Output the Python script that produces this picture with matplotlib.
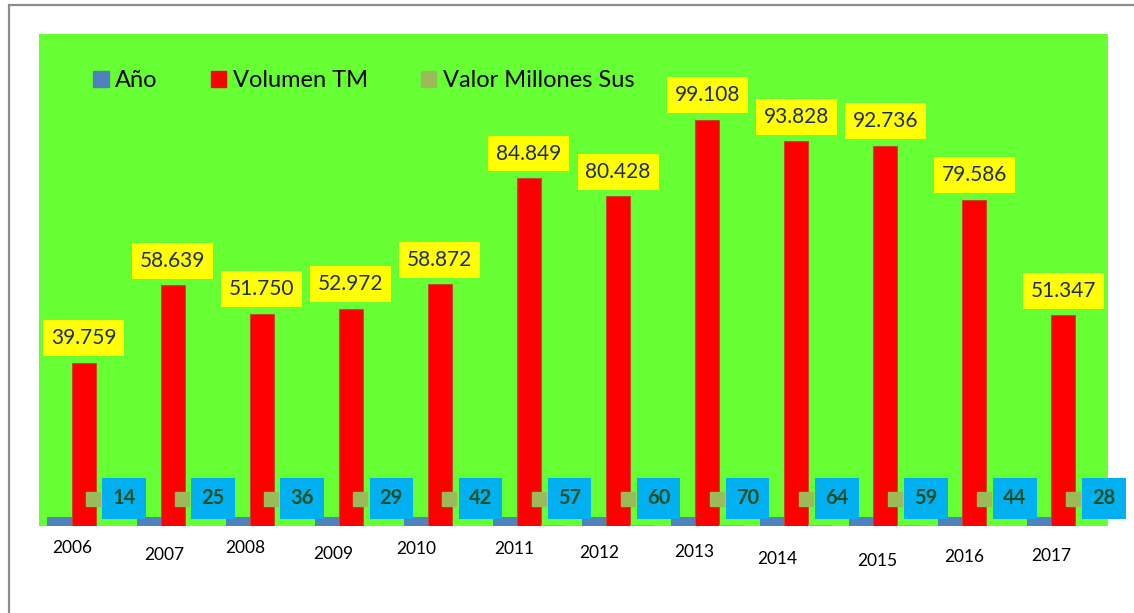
import numpy as np
import matplotlib.pyplot as plt
from matplotlib.patches import Patch, Rectangle
from matplotlib.transforms import offset_copy

# data
anios = [2006, 2007, 2008, 2009, 2010, 2011, 2012, 2013, 2014, 2015, 2016, 2017]
volumen_tm = [39759, 58639, 51750, 52972, 58872, 84849, 80428, 99108, 93828, 92736, 79586, 51347]
valor_mill = [14, 25, 36, 29, 42, 57, 60, 70, 64, 59, 44, 28]
year_labels = [str(a) for a in anios]

# manual offsets (px) of the year text boxes, as placed in the original
year_dx = [-11.8, -8.6, -16.6, -17.8, -23.8, -14.8, -18.9, -13.3, -18.5, -8.1, -10.1, -12.2]
year_dy = [22.3, 29.3, 22.0, 28.3, 22.9, 22.9, 27.3, 26.3, 32.9, 35.0, 31.0, 30.3]

plt.rcParams['font.family'] = ['Lato', 'DejaVu Sans']

W, H = 1134, 613
fig = plt.figure(figsize=(W / 100, H / 100), dpi=100)
fig.patch.set_facecolor('white')

# outer chart frame
fig.patches.append(Rectangle((9 / W, -0.05), 1.1, 1 - 5 / H + 0.05, transform=fig.transFigure,
                             fill=False, edgecolor='#8C8C8C', lw=1.6, zorder=0))

left, right, top, bottom = 39, 1108, 34, 525.7
ax = fig.add_axes([left / W, 1 - bottom / H, (right - left) / W, (bottom - top) / H])
ax.set_facecolor('#66FF33')
for s in ax.spines.values():
    s.set_visible(False)

x = np.arange(len(anios))
w = 0.27
blue, red, green = '#4F81BD', '#FF0000', '#9BBB59'

ax.bar(x - w, anios, w, color=blue, zorder=2)
ax.bar(x, volumen_tm, w, color=red, edgecolor='#D03030', lw=0.5, zorder=2)
ax.bar(x + w, valor_mill, w, color=green, zorder=2)

ax.set_xlim(-0.5, len(anios) - 0.5)
ax.set_ylim(0, 120000)
ax.set_xticks([])
ax.set_yticks([])

px = 0.72  # points per pixel at 100 dpi

# volume labels
for xi, v in zip(x, volumen_tm):
    ax.annotate(f"{v/1000:.3f}", (xi, v), xytext=(0, 24.5 * px), textcoords='offset points',
                ha='center', va='center', fontsize=15, color='#1F2E5A', zorder=5,
                bbox=dict(boxstyle='square,pad=0.38', fc='#FFFF00', ec='none'))

# value labels with legend key
key_tr = offset_copy(ax.transData, fig=fig, x=-14.5 * px, y=27.2 * px, units='points')
ax.plot(x + w, np.zeros(len(x)), 's', ms=10, color=green, transform=key_tr, zorder=5, clip_on=False)
for xi, v in zip(x, valor_mill):
    ax.annotate(str(v), (xi + w, 0), xytext=(16.5 * px, 27.2 * px), textcoords='offset points',
                ha='center', va='center', fontsize=14.5, fontweight='bold', color='#17502A', zorder=6,
                annotation_clip=False,
                bbox=dict(boxstyle='square,pad=0.5', fc='#00B0F0', ec='none'))

# year text below the plot
for xi, lab, dx, dy in zip(x, year_labels, year_dx, year_dy):
    ax.annotate(lab, (xi, 0), xytext=(dx * px, -dy * px), textcoords='offset points',
                ha='center', va='center', fontsize=12.5, color='black', annotation_clip=False)

handles = [Patch(color=blue), Patch(color=red), Patch(color=green)]
ax.legend(handles, ['Año', 'Volumen TM', 'Valor Millones Sus'], loc='center left',
          bbox_to_anchor=(0.042, 0.905), ncol=3, frameon=False, fontsize=17,
          handlelength=0.65, handleheight=0.65, handletextpad=0.28, columnspacing=2.25,
          borderaxespad=0)

fig.savefig('out.png', dpi=100)
